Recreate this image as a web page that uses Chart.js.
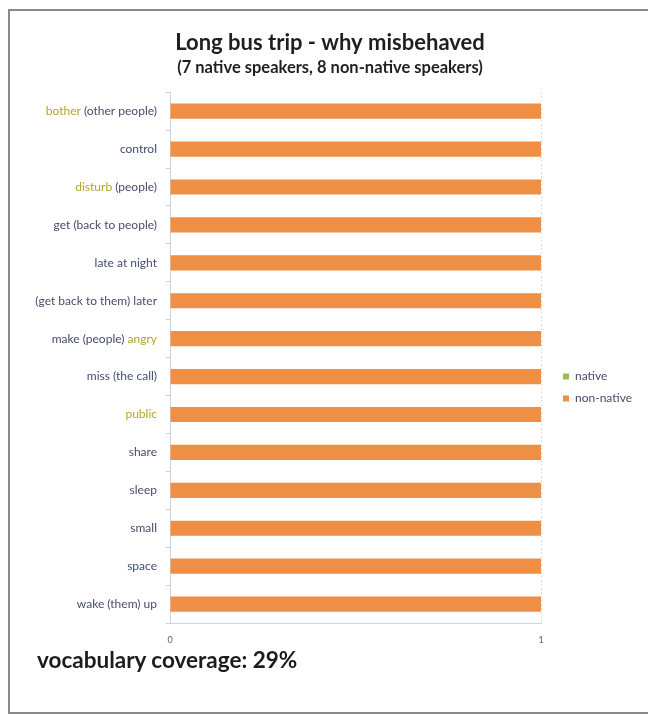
<!DOCTYPE html>
<html>
<head>
<meta charset="utf-8">
<script src="https://cdn.jsdelivr.net/npm/chart.js@4"></script>
<style>
  html, body { margin: 0; padding: 0; background: #fff; }
  #wrap { position: relative; width: 648px; height: 715px; overflow: hidden; }
  #frame {
    position: absolute; left: 8px; top: 9px; width: 660px; height: 701px;
    border-left: 2px solid #8a8a8a; border-top: 2px solid #8a8a8a; border-bottom: 2px solid #8a8a8a;
  }
  #chart { position: absolute; left: 0; top: 0; }
  #coverage {
    position: absolute; left: 37px; top: 646px;
    font: bold 22.5px Lato, "Open Sans", sans-serif; color: #1c1c1c;
  }
</style>
</head>
<body>
<div id="wrap">
  <div id="frame"></div>
  <canvas id="chart" width="648" height="715"></canvas>
  <div id="coverage">vocabulary coverage: 29%</div>
</div>
<script>
// Vocabulary items, top to bottom
const categories = [
  'bother (other people)', 'control', 'disturb (people)', 'get (back to people)',
  'late at night', '(get back to them) later', 'make (people) angry', 'miss (the call)',
  'public', 'share', 'sleep', 'small', 'space', 'wake (them) up'
];
// Words shown in a highlight colour inside the labels
const highlightedWords = ['bother', 'disturb', 'angry', 'public'];

// Number of speakers using each item
const nativeValues    = [0, 0, 0, 0, 0, 0, 0, 0, 0, 0, 0, 0, 0, 0];
const nonNativeValues = [1, 1, 1, 1, 1, 1, 1, 1, 1, 1, 1, 1, 1, 1];

const xTickValues = [0, 1];

const LABEL_COLOR = '#444e6c';
const HIGHLIGHT_COLOR = '#b3a62a';
const LABEL_FONT = '12px Lato, "Open Sans", sans-serif';

// Splits a label into plain / highlighted pieces
function splitLabel(text) {
  const parts = [];
  let rest = text;
  while (rest.length) {
    let best = -1, word = null;
    for (const w of highlightedWords) {
      const i = rest.indexOf(w);
      if (i >= 0 && (best < 0 || i < best)) { best = i; word = w; }
    }
    if (best < 0) { parts.push({ t: rest, hl: false }); break; }
    if (best > 0) parts.push({ t: rest.slice(0, best), hl: false });
    parts.push({ t: word, hl: true });
    rest = rest.slice(best + word.length);
  }
  return parts;
}

// Draws the category labels with highlighted words
const labelPainter = {
  id: 'labelPainter',
  afterDraw(chart) {
    const y = chart.scales.y;
    const ctx = chart.ctx;
    ctx.save();
    ctx.font = LABEL_FONT;
    ctx.textBaseline = 'middle';
    ctx.textAlign = 'left';
    const right = y.right - 4 - 9;
    y.ticks.forEach((tk, i) => {
      const text = y.getLabelForValue(tk.value);
      const py = y.getPixelForTick(i);
      const parts = splitLabel(text);
      const total = ctx.measureText(text).width;
      let x = right - total;
      parts.forEach(p => {
        ctx.fillStyle = p.hl ? HIGHLIGHT_COLOR : LABEL_COLOR;
        ctx.fillText(p.t, x, py);
        x += ctx.measureText(p.t).width;
      });
    });
    ctx.restore();
  }
};

// Places the legend column beside the plot
const legendPlacer = {
  id: 'legendPlacer',
  afterLayout(chart) {
    const lg = chart.legend;
    const dx = 12, dy = 46;
    lg.left += dx; lg.right += dx;
    lg.top += dy; lg.bottom += dy;
  }
};

new Chart(document.getElementById('chart'), {
  type: 'bar',
  data: {
    labels: categories,
    datasets: [
      {
        label: 'native',
        data: nativeValues,
        backgroundColor: '#9bbb59',
        grouped: false,
        categoryPercentage: 0.8,
        barPercentage: 0.5
      },
      {
        label: 'non-native',
        data: nonNativeValues,
        backgroundColor: '#ef8f45',
        grouped: false,
        categoryPercentage: 0.8,
        barPercentage: 0.5
      }
    ]
  },
  options: {
    indexAxis: 'y',
    responsive: false,
    animation: false,
    devicePixelRatio: 1,
    layout: { padding: { left: 30, right: 18, top: 30, bottom: 62 } },
    plugins: {
      title: {
        display: true,
        text: 'Long bus trip - why misbehaved',
        color: '#1f1f1f',
        font: { family: 'Lato, "Open Sans", sans-serif', size: 22, weight: 'bold' },
        padding: { top: 0, bottom: 1 }
      },
      subtitle: {
        display: true,
        text: '(7 native speakers, 8 non-native speakers)',
        color: '#1f1f1f',
        font: { family: 'Lato, "Open Sans", sans-serif', size: 16.5, weight: 'bold' },
        padding: { top: 0, bottom: 15 }
      },
      legend: {
        position: 'right',
        labels: {
          boxWidth: 6,
          boxHeight: 6,
          padding: 10,
          color: LABEL_COLOR,
          font: { family: 'Lato, "Open Sans", sans-serif', size: 12 }
        }
      },
      tooltip: { enabled: false }
    },
    scales: {
      x: {
        min: 0,
        max: 1,
        afterBuildTicks(s) { s.ticks = xTickValues.map(v => ({ value: v })); },
        afterFit(s) { s.height = 30; },
        ticks: {
          color: '#59627a',
          font: { family: 'Lato, "Open Sans", sans-serif', size: 9 },
          padding: 12
        },
        grid: { color: '#d9dce4', drawTicks: false, lineWidth: 1 },
        border: { color: '#cfd3dd', dash: [2, 2] }
      },
      y: {
        type: 'category',
        offset: true,
        afterFit(s) { s.width = 140; },
        ticks: { color: 'rgba(0,0,0,0)', font: { family: 'Lato, "Open Sans", sans-serif', size: 12 }, padding: 9 },
        grid: { drawOnChartArea: false, tickLength: 4, color: '#cfd3dd', offset: true },
        border: { color: '#cfd3dd', dash: [2, 2] }
      }
    }
  },
  plugins: [labelPainter, legendPlacer]
});
</script>
</body>
</html>
